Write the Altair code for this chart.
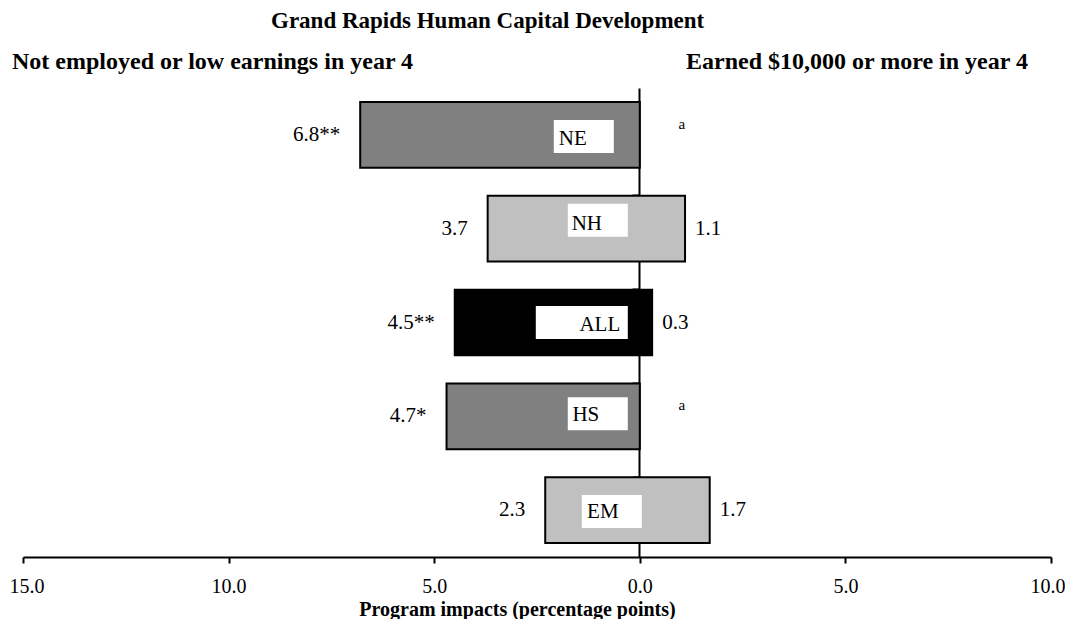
import altair as alt
import pandas as pd

# ---- data ----
groups = ["NE", "NH", "ALL", "HS", "EM"]
left_values = [6.8, 3.7, 4.5, 4.7, 2.3]          # Not employed or low earnings in year 4
left_labels = ["6.8**", "3.7", "4.5**", "4.7*", "2.3"]
right_values = [None, 1.1, 0.3, None, 1.7]       # Earned $10,000 or more in year 4
right_labels = ["a", "1.1", "0.3", "a", "1.7"]
tick_values = [-15, -10, -5, 0, 5, 10]

title_text = "Grand Rapids Human Capital Development"
left_head = "Not employed or low earnings in year 4"
right_head = "Earned $10,000 or more in year 4"
x_title = "Program impacts (percentage points)"

colors = {"NE": "#808080", "NH": "#c0c0c0", "ALL": "#000000", "HS": "#808080", "EM": "#c0c0c0"}

rows = []
for g, lv, ll, rv, rl in zip(groups, left_values, left_labels, right_values, right_labels):
    rows.append({
        "group": g,
        "start": -lv,
        "end": rv if rv is not None else 0.0,
        "right": rv,
        "left_label": ll,
        "right_label": rl,
        "has_right": rv is not None,
    })
df = pd.DataFrame(rows)

FONT = "Liberation Serif"
W, H = 1028, 469

x_scale = alt.Scale(domain=[-15, 10], nice=False, zero=False)
y_scale = alt.Scale(domain=groups, paddingInner=0.3, paddingOuter=0.15)

x_enc = alt.X(
    "start:Q",
    scale=x_scale,
    axis=alt.Axis(
        values=tick_values,
        labelExpr="format(abs(datum.value), '.1f')",
        labelFlush=True, labelFlushOffset=14,
        title=x_title,
        grid=False,
        domainColor="black", domainWidth=2,
        tickColor="black", tickWidth=2, tickSize=6,
        labelFont=FONT, labelFontSize=20, labelColor="black",
        labelBaseline="alphabetic", labelPadding=29,
        titleFont=FONT, titleFontSize=20, titleFontWeight="bold", titleColor="black",
        titleX=494, titleY=58, titleBaseline="alphabetic",
    ),
)
y_enc = alt.Y(
    "group:N",
    scale=y_scale,
    axis=alt.Axis(
        title=None, labels=False, grid=False,
        offset=-616, bandPosition=0,
        domainColor="black", domainWidth=2,
        tickColor="black", tickWidth=2, tickSize=7,
    ),
)

base = alt.Chart(df)

bars = base.mark_bar(stroke="black", strokeWidth=2).encode(
    x=x_enc,
    x2="end:Q",
    y=y_enc,
    color=alt.Color("group:N", scale=alt.Scale(domain=list(colors.keys()), range=list(colors.values())), legend=None),
)

# white name boxes and names (pixel offsets from the zero line, per row)
label_layout = {
    #        box left, box right, box dy, text dx, text dy
    "NE":  (-86, -26, 1.5, -67, 4),
    "NH":  (-72, -12, -8.5, -53, -5),
    "ALL": (-104, -12, 0, -40, 2.5),
    "HS":  (-72, -12, -2.5, -54, -1),
    "EM":  (-58, 2, 1.5, -37, 2),
}
name_layers = []
for g, (bl, br, bdy, tdx, tdy) in label_layout.items():
    sub = base.transform_filter(alt.datum.group == g)
    name_layers.append(
        sub.mark_bar(color="white", size=33, xOffset=bl, x2Offset=br, yOffset=bdy).encode(
            x=alt.datum(0), x2=alt.datum(0), y=alt.Y("group:N")
        )
    )
    name_layers.append(
        sub.mark_text(font=FONT, fontSize=21, color="black", dx=tdx, dy=tdy, baseline="middle", align="center").encode(
            x=alt.datum(0), y=alt.Y("group:N"), text="group:N"
        )
    )

left_text = base.mark_text(font=FONT, fontSize=21, color="black", align="right", baseline="middle", dx=-20).encode(
    x="start:Q", y=alt.Y("group:N"), text="left_label:N"
)
right_text = base.transform_filter("datum.has_right").mark_text(
    font=FONT, fontSize=21, color="black", align="left", baseline="middle", dx=10
).encode(x="right:Q", y=alt.Y("group:N"), text="right_label:N")
note_text = base.transform_filter("!datum.has_right").mark_text(
    font=FONT, fontSize=15, color="black", align="center", baseline="middle", dx=42, dy=-11
).encode(x=alt.datum(0), y=alt.Y("group:N"), text="right_label:N")

one = pd.DataFrame({"t": [title_text], "l": [left_head], "r": [right_head]})
hdr = alt.Chart(one)
title_mark = hdr.mark_text(font=FONT, fontSize=23, fontWeight="bold", align="left", baseline="alphabetic", color="black").encode(
    x=alt.value(248), y=alt.value(-60), text="t:N"
)
left_head_mark = hdr.mark_text(font=FONT, fontSize=24, fontWeight="bold", align="left", baseline="alphabetic", color="black").encode(
    x=alt.value(-11), y=alt.value(-19), text="l:N"
)
right_head_mark = hdr.mark_text(font=FONT, fontSize=24, fontWeight="bold", align="right", baseline="alphabetic", color="black").encode(
    x=alt.value(1005), y=alt.value(-19), text="r:N"
)

chart = alt.layer(
    bars, *name_layers, left_text, right_text, note_text,
    title_mark, left_head_mark, right_head_mark,
).properties(
    width=W, height=H,
    autosize=alt.AutoSizeParams(type="none"),
    padding={"left": 15, "top": 80, "right": 14, "bottom": 62},
    background="white",
).configure_view(stroke=None)

chart.save("out.html", embed_options={"renderer": "svg", "actions": False})
